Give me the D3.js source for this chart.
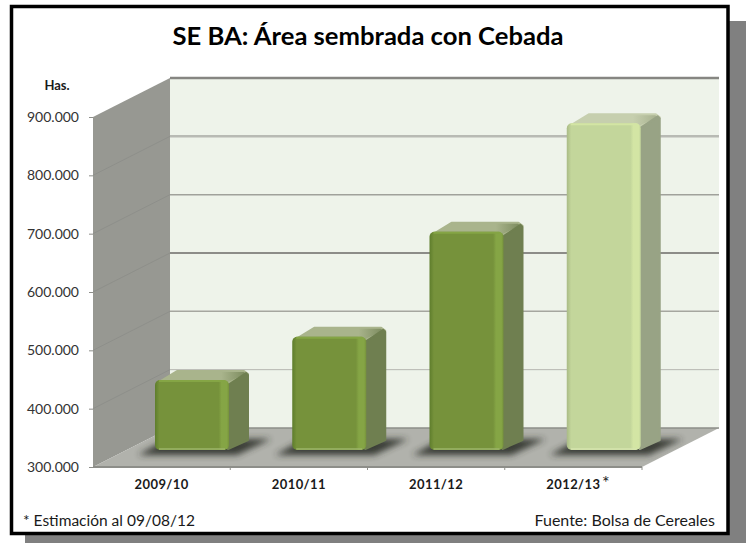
<!DOCTYPE html>
<html>
<head>
<meta charset="utf-8">
<script src="https://cdn.jsdelivr.net/npm/d3@7"></script>
<style>
  body { margin: 0; background: #fff; }
  svg { display: block; }
  text { font-family: Lato, "Open Sans", sans-serif; fill: #1a1a1a; }
</style>
</head>
<body>
<div class="canvas"></div>
<script>
const categories = ['2009/10', '2010/11', '2011/12', '2012/13']
const values = [420000, 494000, 674000, 860000]
const estimated = [false, false, false, true]
const yTicks = [300000, 400000, 500000, 600000, 700000, 800000, 900000]

const width = 746
const height = 543

// chart box, the grey offset shadow sits behind it
const box = { left: 11.5, top: 6.5, right: 728, bottom: 533.5 }

// front plane of the 3d plot and how far the back wall is shifted
const plot = { left: 93, right: 642, top: 117, bottom: 467 }
const depth = { x: 77, y: -39 }

// bars stand part way into the floor
const barInset = { x: 62, y: -17, w: 74 }
const barDepth = { x: 20, y: -11 }

const svg = d3.select('.canvas').append('svg')
  .attr('width', width)
  .attr('height', height)

const x = d3.scaleBand()
  .domain(categories)
  .range([plot.left, plot.right])

const y = d3.scaleLinear()
  .domain([300000, 900000])
  .range([plot.bottom, plot.top])

const es = d3.formatLocale({ decimal: ',', thousands: '.', grouping: [3], currency: ['', ''] })
const fmt = es.format(',.0f')

const defs = svg.append('defs')

defs.append('filter').attr('id', 'soft')
  .attr('x', '-20%').attr('y', '-50%').attr('width', '140%').attr('height', '200%')
  .append('feGaussianBlur').attr('stdDeviation', 3.2)

// front face colours: left edge, body, right highlight
const palettes = {
  normal: { edge: '#5e7d2c', body: '#76923b', light: '#85a545', side: '#6f7f50', top: '#a9b48c', topEnd: '#78875a', foot: '#9db56a' },
  estimate: { edge: '#a9ba85', body: '#c3d69b', light: '#d3e5a4', side: '#98a385', top: '#c6cfae', topEnd: '#a4ae8c', foot: '#d6e4ae' }
}

Object.entries(palettes).forEach(([name, p]) => {
  const front = defs.append('linearGradient').attr('id', `front-${name}`)
  const stops = [[0, p.edge], [0.06, p.body], [0.86, p.body], [0.9, p.light], [0.97, p.light], [1, p.body]]
  stops.forEach(s => front.append('stop').attr('offset', s[0]).attr('stop-color', s[1]))
  const top = defs.append('linearGradient').attr('id', `top-${name}`)
  top.append('stop').attr('offset', 0.7).attr('stop-color', p.top)
  top.append('stop').attr('offset', 1).attr('stop-color', p.topEnd)
})

const line = d3.line()

const backX0 = plot.left + depth.x
const backX1 = plot.right + depth.x

// walls and floor
svg.append('rect')
  .attr('x', 25).attr('y', 21)
  .attr('width', width - 25).attr('height', height - 21)
  .attr('fill', '#808080')

svg.append('rect')
  .attr('x', box.left).attr('y', box.top)
  .attr('width', box.right - box.left).attr('height', box.bottom - box.top)
  .attr('fill', '#fff')
  .attr('stroke', '#000')
  .attr('stroke-width', 3.5)

svg.append('rect')
  .attr('x', backX0).attr('y', y(900000) + depth.y)
  .attr('width', backX1 - backX0).attr('height', plot.bottom - plot.top)
  .attr('fill', '#eef3ea')

svg.append('path')
  .attr('d', line([[plot.left, plot.top], [backX0, plot.top + depth.y], [backX0, plot.bottom + depth.y], [plot.left, plot.bottom]]) + 'Z')
  .attr('fill', '#979892')

svg.append('path')
  .attr('d', line([[plot.left, plot.bottom], [plot.right, plot.bottom], [backX1, plot.bottom + depth.y], [backX0, plot.bottom + depth.y]]) + 'Z')
  .attr('fill', '#b1b2ac')

// gridlines: faint on the side wall, heavier across the back wall
const gridColors = ['#8d8e89', '#b5b6b0', '#a5a69f', '#8c8c88', '#a0a19b', '#b8bab4', '#868682']
const gridWidths = [1.5, 1, 1.5, 2, 1.5, 2.5, 2.5]

svg.append('g').selectAll('path')
  .data(yTicks.slice(1, -1))
  .join('path')
  .attr('d', d => line([[plot.left, y(d)], [backX0, y(d) + depth.y]]))
  .attr('fill', 'none')
  .attr('stroke', '#8a8b86')
  .attr('stroke-width', 0.7)

svg.append('g').selectAll('path')
  .data(yTicks)
  .join('path')
  .attr('d', d => line([[backX0, y(d) + depth.y], [backX1, y(d) + depth.y]]))
  .attr('fill', 'none')
  .attr('stroke', (d, i) => gridColors[i])
  .attr('stroke-width', (d, i) => gridWidths[i])

svg.append('path')
  .attr('d', line([[plot.left, plot.bottom], [plot.right, plot.bottom]]))
  .attr('stroke', '#8d8e89')
  .attr('stroke-width', 2)

// bars
const bars = svg.append('g').selectAll('g')
  .data(categories.map((c, i) => ({ cat: c, value: values[i], pal: estimated[i] ? 'estimate' : 'normal' })))
  .join('g')

const bx0 = d => x(d.cat) + barInset.x
const bx1 = d => bx0(d) + barInset.w
const barBase = plot.bottom + barInset.y
const barTop = d => y(d.value) + barInset.y

bars.append('path')
  .attr('d', d => line([
    [bx0(d) - 17, barBase + 5],
    [bx1(d) + 8, barBase + 5],
    [bx1(d) + 42, barBase - 11],
    [bx0(d) + 12, barBase - 11]
  ]) + 'Z')
  .attr('fill', '#2f302c')
  .attr('opacity', 0.9)
  .attr('filter', 'url(#soft)')

// top and side faces get a same-colour round stroke to soften their corners
bars.append('path')
  .attr('d', d => line([
    [bx0(d) + 4, barTop(d) + 2],
    [bx0(d) + barDepth.x + 2, barTop(d) + barDepth.y + 2],
    [bx1(d) + barDepth.x - 5, barTop(d) + barDepth.y + 2],
    [bx1(d) + barDepth.x - 1, barTop(d) + barDepth.y + 5],
    [bx1(d) - 3, barTop(d) + 4]
  ]) + 'Z')
  .attr('fill', d => `url(#top-${d.pal})`)
  .attr('stroke', d => palettes[d.pal].top)
  .attr('stroke-width', 2)
  .attr('stroke-linejoin', 'round')

bars.append('path')
  .attr('d', d => line([
    [bx1(d) - 1, barTop(d) + 5],
    [bx1(d) + barDepth.x - 3, barTop(d) + barDepth.y + 4],
    [bx1(d) + barDepth.x - 1, barTop(d) + barDepth.y + 6],
    [bx1(d) + barDepth.x - 1, barBase + barDepth.y + 1],
    [bx1(d) - 1, barBase - 1]
  ]) + 'Z')
  .attr('fill', d => palettes[d.pal].side)
  .attr('stroke', d => palettes[d.pal].side)
  .attr('stroke-width', 2)
  .attr('stroke-linejoin', 'round')

bars.append('rect')
  .attr('x', bx0)
  .attr('y', barTop)
  .attr('width', barInset.w)
  .attr('height', d => barBase - barTop(d))
  .attr('rx', 5)
  .attr('fill', d => `url(#front-${d.pal})`)

// thin bevel along the top and foot of the front face
bars.append('path')
  .attr('d', d => line([[bx0(d) + 4, barBase - 1], [bx1(d) - 4, barBase - 1]]))
  .attr('stroke', d => palettes[d.pal].foot)
  .attr('stroke-width', 1.5)

bars.append('path')
  .attr('d', d => line([[bx0(d) + 4, barTop(d) + 1], [bx1(d) - 4, barTop(d) + 1]]))
  .attr('stroke', d => palettes[d.pal].light)
  .attr('stroke-width', 2)

// axes
const yAxisGroup = svg.append('g')
  .attr('transform', `translate(${plot.left}, 0)`)
  .call(d3.axisLeft(y).tickValues(yTicks).tickFormat(fmt).tickSize(4).tickPadding(10))

yAxisGroup.select('.domain').remove()
yAxisGroup.selectAll('line').attr('stroke', '#8d8e89')
yAxisGroup.selectAll('text')
  .attr('font-size', 14)
  .attr('font-family', 'Lato')
  .style('fill', '#333')

const xAxisGroup = svg.append('g')
  .attr('transform', `translate(0, ${plot.bottom})`)
  .call(d3.axisBottom(x).tickSize(0).tickPadding(13))

xAxisGroup.select('.domain').remove()
xAxisGroup.selectAll('text')
  .attr('font-size', 13)
  .attr('font-weight', 700)
  .attr('font-family', 'Lato')
  .style('letter-spacing', '0.4px')

// x ticks sit on the band edges, not on the labels
xAxisGroup.selectAll('.edge')
  .data(x.domain().slice(1).concat(['end']))
  .join('line')
  .attr('class', 'edge')
  .attr('x1', d => d === 'end' ? plot.right : x(d))
  .attr('x2', d => d === 'end' ? plot.right : x(d))
  .attr('y1', 0)
  .attr('y2', 3)
  .attr('stroke', '#8d8e89')

// titles and notes
svg.append('text')
  .attr('x', 368).attr('y', 45)
  .attr('text-anchor', 'middle')
  .attr('font-size', 25.6)
  .attr('font-weight', 700)
  .style('fill', '#000')
  .text('SE BA: Área sembrada con Cebada')

svg.append('text')
  .attr('x', 57).attr('y', 90)
  .attr('text-anchor', 'middle')
  .attr('font-size', 13)
  .attr('font-weight', 700)
  .text('Has.')

svg.append('text')
  .attr('x', 602).attr('y', 489)
  .attr('font-size', 18)
  .text('*')

svg.append('text')
  .attr('x', 23).attr('y', 526)
  .attr('font-size', 15.5)
  .text('* Estimación al 09/08/12')

svg.append('text')
  .attr('x', 715).attr('y', 526)
  .attr('text-anchor', 'end')
  .attr('font-size', 16)
  .text('Fuente: Bolsa de Cereales')
</script>
</body>
</html>
